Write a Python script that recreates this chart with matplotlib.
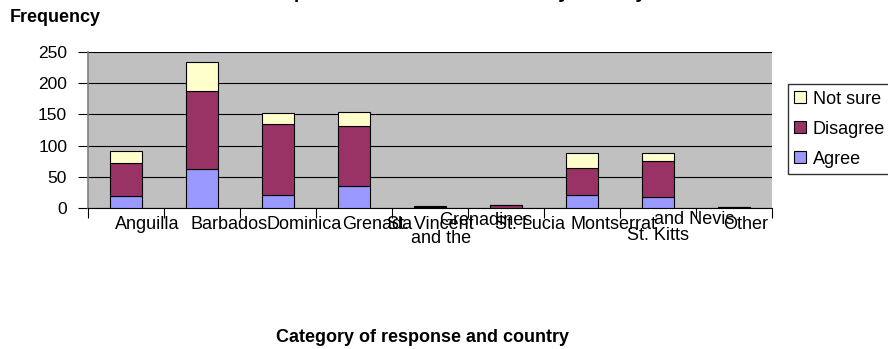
import numpy as np
import matplotlib
matplotlib.use("Agg")
import matplotlib.pyplot as plt
from matplotlib.transforms import blended_transform_factory

plt.rcParams['font.family'] = ['Liberation Sans', 'DejaVu Sans']

countries = ["Anguilla", "Barbados", "Dominica", "Grenada",
             "St. Vincent and the Grenadines", "St. Lucia", "Montserrat",
             "St. Kitts and Nevis", "Other"]
agree = [20, 62, 22, 36, 1, 0, 22, 18, 1]
disagree = [53, 126, 113, 95, 1, 6, 42, 58, 1]
not_sure = [18, 46, 17, 22, 2, 0, 25, 13, 0]

fig = plt.figure(figsize=(8.88, 3.49), dpi=100)
ax = fig.add_axes([0.0991, 0.403, 0.7703, 0.449])
ax.set_facecolor("#c0c0c0")

x = np.arange(len(countries))
w = 0.41
b1 = ax.bar(x, agree, w, color="#9999ff", edgecolor="black", linewidth=0.8, label="Agree", zorder=3)
b2 = ax.bar(x, disagree, w, bottom=agree, color="#993366", edgecolor="black", linewidth=0.8,
            label="Disagree", zorder=3)
bottom2 = np.array(agree) + np.array(disagree)
b3 = ax.bar(x, not_sure, w, bottom=bottom2, color="#ffffcc", edgecolor="black", linewidth=0.8,
            label="Not sure", zorder=3)

ax.set_xlim(-0.5, len(countries) - 0.5)
ax.set_ylim(0, 250)
ax.set_yticks(range(0, 251, 50))
ax.yaxis.grid(True, color="black", linewidth=0.8, zorder=1)
ax.tick_params(axis="y", labelsize=12.5, direction="out", length=7, width=0.8, pad=8)
ax.set_xticks(np.arange(len(countries) + 1) - 0.5)
ax.set_xticklabels([])
ax.tick_params(axis="x", direction="out", length=7, width=0.8)
for s in ["top", "right"]:
    ax.spines[s].set_visible(False)
ax.spines["left"].set_color("#808080")
ax.spines["left"].set_linewidth(1.2)
ax.spines["bottom"].set_linewidth(0.8)

# category labels, drawn the way the original overlaps them
tr = blended_transform_factory(ax.transData, ax.transAxes)
fs = 13
simple = {0: "Anguilla", 1: "Barbados", 2: "Dominica", 3: "Grenada",
          5: "St. Lucia", 6: "Montserrat", 8: "Other"}
for i, name in simple.items():
    ax.text(i - 0.15, -0.05, name, transform=tr, ha="left", va="top", fontsize=fs)
ax.text(4.0, -0.05, "St. Vincent", transform=tr, ha="center", va="top", fontsize=fs)
ax.text(4.15, -0.135, "and the", transform=tr, ha="center", va="top", fontsize=fs)
ax.text(4.73, -0.025, "Grenadines", transform=tr, ha="center", va="top", fontsize=fs)
ax.text(7.0, -0.12, "St. Kitts", transform=tr, ha="center", va="top", fontsize=fs)
ax.text(7.48, -0.015, "and Nevis", transform=tr, ha="center", va="top", fontsize=fs)

fig.text(0.0113, 0.95, "Frequency", fontsize=13, fontweight="bold", ha="left", va="center")
fig.text(0.476, 0.034, "Category of response and country", fontsize=13, fontweight="bold",
         ha="center", va="center")
fig.text(0.5, 1 + 1.5 / 349, "Perceptions of education reform by country", fontsize=14,
         fontweight="bold", ha="center", va="baseline")

leg = fig.legend(handles=[b3, b2, b1], labels=["Not sure", "Disagree", "Agree"],
                 loc="upper left", bbox_to_anchor=(0.887, 0.758), fontsize=13,
                 frameon=True, fancybox=False, edgecolor="black", borderpad=0.35,
                 handlelength=0.65, handleheight=0.65, handletextpad=0.4, labelspacing=0.72,
                 borderaxespad=0)
leg.get_frame().set_linewidth(1.0)

fig.savefig("out.png", dpi=100)
